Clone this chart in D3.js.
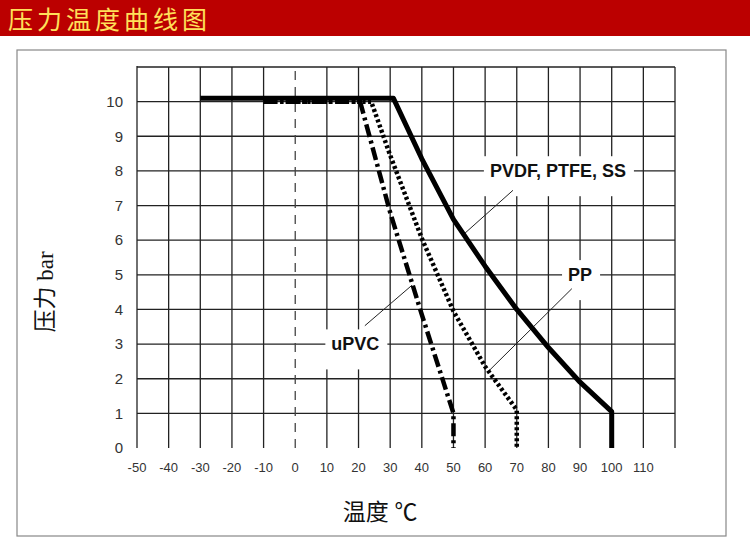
<!DOCTYPE html>
<html lang="zh">
<head>
    <meta charset="UTF-8">
    <title>压力温度曲线图</title>
    <style>
        body { margin: 0; background: #fff; font-family: Arial, "Liberation Sans", sans-serif; }
        svg { display: block; }
        .grid line { stroke: #222; stroke-width: 1.3; }
        .tick-y { font-size: 15px; fill: #333; }
        .tick-x { font-size: 13px; fill: #333; font-family: "Liberation Sans Narrow", "Arial Narrow", Arial, sans-serif; }
        .tag { font-size: 18px; font-weight: bold; fill: #111; }
        .axis-title { font-family: "Liberation Serif", "Noto Sans CJK SC", serif; font-size: 23px; fill: #111; }
    </style>
</head>
<body>
<svg id="chart" width="750" height="551"></svg>
<script src="https://d3js.org/d3.v7.min.js"></script>
<script>
    // 数据
    const xTicks = [-50, -40, -30, -20, -10, 0, 10, 20, 30, 40, 50, 60, 70, 80, 90, 100, 110];
    const yTicks = [0, 1, 2, 3, 4, 5, 6, 7, 8, 9, 10];

    const pvdfTemp = [-30, 31, 40, 50, 60, 70, 80, 90, 100, 100];
    const pvdfBar = [10.1, 10.1, 8.35, 6.6, 5.25, 4.0, 2.9, 1.9, 1.05, 0];

    const ppTemp = [-10, 24, 30, 40, 50, 60, 70, 70];
    const ppBar = [10, 10, 8.45, 6.05, 3.95, 2.35, 1.1, 0];

    const upvcTemp = [-10, 20.5, 30, 40, 50, 50];
    const upvcBar = [10, 10, 6.8, 3.85, 1.0, 0];

    const labels = ["PVDF, PTFE, SS", "PP", "uPVC"];
    const labelTemp = [83, 90, 19];
    const labelBar = [8, 5, 3];
    // 引线: 起点 (标签) -> 终点 (曲线)
    const leaderFrom = [[68.8, 7.44], [87.4, 4.6], [22, 3.53]];
    const leaderTo = [[53.6, 6.2], [60.9, 2.2], [36.9, 4.7]];

    const svg = d3.select("#chart");

    // 标题栏
    svg.append("rect").attr("x", 0).attr("y", 0).attr("width", 750).attr("height", 36).attr("fill", "#bb0000");
    svg.append("text")
        .attr("x", 8).attr("y", 29)
        .attr("font-family", "'Noto Sans CJK SC', sans-serif")
        .attr("font-size", 25).attr("letter-spacing", 4).attr("fill", "#ffe05a")
        .text("压力温度曲线图");

    // 外框
    svg.append("rect").attr("x", 17).attr("y", 50).attr("width", 709).attr("height", 486)
        .attr("fill", "none").attr("stroke", "#888").attr("stroke-width", 1.2);

    const x = d3.scaleLinear().domain([-50, 120]).range([137, 675]);
    const y = d3.scaleLinear().domain([0, 11]).range([448, 67]);

    const grid = svg.append("g").attr("class", "grid");

    // 横线
    grid.selectAll(".h").data(d3.range(1, 12)).enter().append("line")
        .attr("x1", x(-50)).attr("x2", x(120))
        .attr("y1", d => y(d)).attr("y2", d => y(d));

    // 竖线 (0 处为虚线)
    grid.selectAll(".v").data(xTicks.filter(d => d !== 0 && d !== -50).concat([120])).enter().append("line")
        .attr("x1", d => x(d)).attr("x2", d => x(d))
        .attr("y1", y(11)).attr("y2", y(0))
        .attr("stroke-width", d => d === 120 ? 2 : 1.3);

    grid.append("line")
        .attr("x1", x(-50)).attr("x2", x(-50)).attr("y1", y(11) - 1).attr("y2", y(0))
        .attr("stroke-width", 2.8);

    svg.append("line")
        .attr("x1", x(0)).attr("x2", x(0)).attr("y1", y(11) + 4).attr("y2", y(0))
        .attr("stroke", "#444").attr("stroke-width", 1.3)
        .attr("stroke-dasharray", "9,7");

    // 刻度标签
    svg.selectAll(".tick-y").data(yTicks).enter().append("text")
        .attr("class", "tick-y")
        .attr("x", 123).attr("y", d => y(d))
        .attr("dy", "0.35em").attr("text-anchor", "end")
        .text(d => d);

    svg.selectAll(".tick-x").data(xTicks).enter().append("text")
        .attr("class", "tick-x")
        .attr("x", d => x(d)).attr("y", 467)
        .attr("dy", "0.35em").attr("text-anchor", "middle")
        .text(d => d);

    // 标签白底
    const tagG = svg.append("g");
    labels.forEach((t, i) => {
        const g = tagG.append("g");
        const rect = g.append("rect").attr("fill", "#fff");
        const txt = g.append("text").attr("class", "tag")
            .attr("x", x(labelTemp[i])).attr("y", y(labelBar[i]))
            .attr("dy", "0.35em").attr("text-anchor", "middle")
            .text(t);
        const b = txt.node().getBBox();
        rect.attr("x", b.x - 6).attr("y", b.y - 5)
            .attr("width", b.width + 14).attr("height", b.height + 20);
        txt.raise();
    });

    // 引线
    svg.selectAll(".leader").data(leaderFrom).enter().append("line")
        .attr("x1", d => x(d[0])).attr("y1", d => y(d[1]))
        .attr("x2", (d, i) => x(leaderTo[i][0])).attr("y2", (d, i) => y(leaderTo[i][1]))
        .attr("stroke", "#222").attr("stroke-width", 1);

    // 曲线
    const line = d3.line().x(d => x(d[0])).y(d => y(d[1]));

    svg.append("path")
        .datum(upvcTemp.map((t, i) => [t, upvcBar[i]]))
        .attr("d", line).attr("fill", "none")
        .attr("stroke", "#000").attr("stroke-width", 4.5)
        .attr("stroke-dasharray", "13,4,3,4");

    svg.append("path")
        .datum(ppTemp.map((t, i) => [t, ppBar[i]]))
        .attr("d", line).attr("fill", "none")
        .attr("stroke", "#000").attr("stroke-width", 4.5)
        .attr("stroke-dasharray", "3,2.5");

    svg.append("path")
        .datum(pvdfTemp.map((t, i) => [t, pvdfBar[i]]))
        .attr("d", line).attr("fill", "none")
        .attr("stroke", "#000").attr("stroke-width", 5)
        .attr("stroke-linejoin", "round");

    // 轴标题
    svg.append("text").attr("class", "axis-title")
        .attr("transform", "translate(53,292) rotate(-90)")
        .attr("text-anchor", "middle")
        .text("压力 bar");

    svg.append("text").attr("class", "axis-title")
        .attr("x", 380).attr("y", 520)
        .attr("text-anchor", "middle")
        .text("温度 ℃");
</script>
</body>
</html>
